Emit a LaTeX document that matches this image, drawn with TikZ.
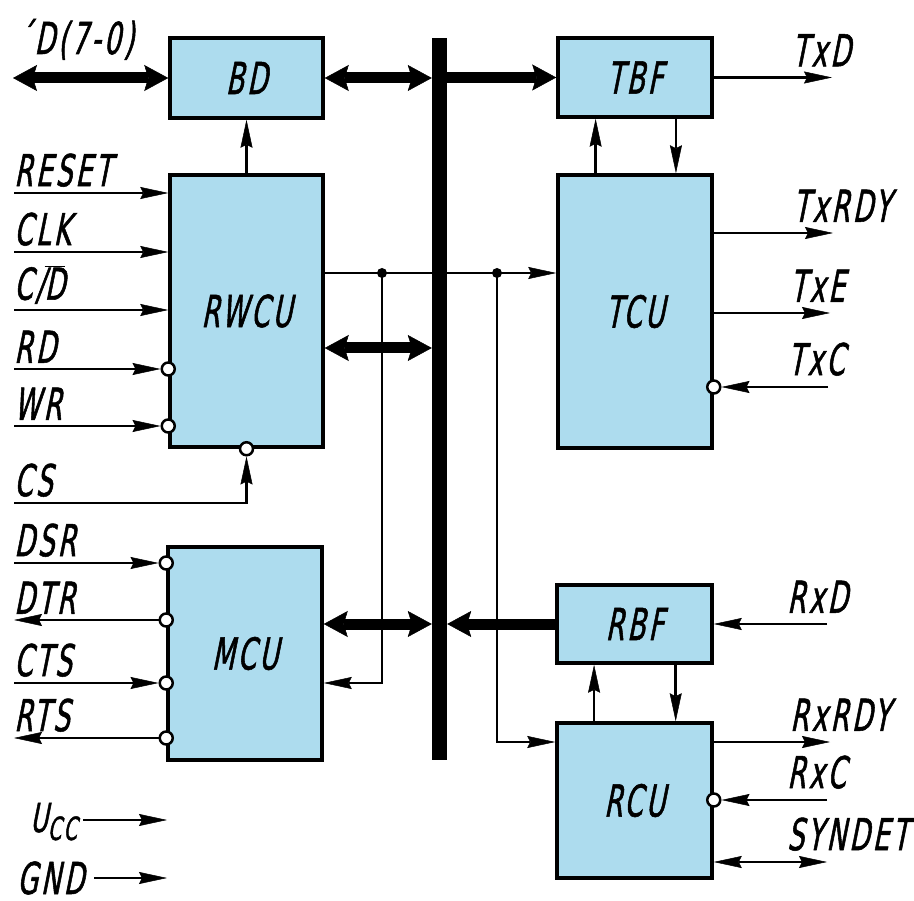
\documentclass[tikz,border=0pt]{standalone}
\usepackage{fontspec}
\newfontfamily\labelfont[FakeStretch=0.6,FakeSlant=0.2,FakeBold=1.2,LetterSpace=7]{DejaVu Sans}
\usetikzlibrary{arrows.meta, positioning, calc}
\definecolor{unitblue}{RGB}{173,220,238}

\begin{document}
\begin{tikzpicture}[
    x=1pt, y=-1pt,
    >={Stealth[length=28pt,width=12pt,inset=3pt,line width=0.5pt]}, % long thin signal tip
    % Style definitions
    unit box/.style={draw, line width=3.5pt, fill=unitblue, rectangle, inner sep=0pt, font=\labelfont\fontsize{44}{48}\selectfont},
    pin label/.style={inner sep=0pt, font=\labelfont\fontsize{44}{48}\selectfont},
    sig/.style={line width=2.6pt},
    feed in/.style={->},
    feed out/.style={<-},
    fat tip/.tip={Stealth[length=24pt,width=26pt,inset=4pt,line width=0.5pt]},
    data bus/.style={line width=11pt, fat tip-fat tip},
    data feed/.style={line width=11pt, -fat tip},
    % Pin circles and junctions
    neg/.style={circle, draw, line width=2.5pt, fill=white, minimum size=13pt, inner sep=0pt},
    junction/.style={circle, fill, minimum size=10pt, inner sep=0pt}
]
\useasboundingbox (0,0) rectangle (914,901);

% ==========================================
% 1. UNITS AND INTERNAL BUS
% ==========================================
\node[fill, minimum width=15pt, minimum height=722pt, inner sep=0pt] (bus) at (439.5,399) {};

\node[unit box, minimum width=153pt, minimum height=80pt]  (bd)   at (246.5,78)  {BD};
\node[unit box, minimum width=153pt, minimum height=272pt] (rwcu) at (246.5,311) {RWCU};
\node[unit box, minimum width=154pt, minimum height=213pt] (mcu)  at (245,653.5) {MCU};
\node[unit box, minimum width=154pt, minimum height=79pt]  (tbf)  at (635,77.5)  {TBF};
\node[unit box, minimum width=154pt, minimum height=273pt] (tcu)  at (635,311.5) {TCU};
\node[unit box, minimum width=155pt, minimum height=78pt]  (rbf)  at (634.5,624) {RBF};
\node[unit box, minimum width=155pt, minimum height=155pt] (rcu)  at (634.5,800.5) {RCU};

% ==========================================
% 2. DATA PATHS (thick)
% ==========================================
\coordinate (pData) at (13,78);
\coordinate (lvlRW) at (0,348);
\node[pin label, anchor=south west] (lData) at (18,60) {´D(7-0)};

\draw[data bus] (pData) -- (bd.west);
\draw[data bus] (bd.east) -- (bd.east -| bus.west);
\draw[data feed] (bus.east |- tbf.west) -- (tbf.west);
\draw[data bus] (rwcu.east |- lvlRW) -- (bus.west |- lvlRW);
\draw[data bus] (mcu.east |- rbf.west) -- (bus.west |- rbf.west);
\draw[data feed] (rbf.west) -- (bus.east |- rbf.west);

% ==========================================
% 3. CONTROL LINES
% ==========================================
\coordinate (lvlCtl) at (0,273);
\draw[sig,->] (rwcu.north) -- (bd.south);
\draw[sig,->] (rwcu.east |- lvlCtl) -- (tcu.west |- lvlCtl);
\node[junction] (j1) at (382,273) {};
\node[junction] (j2) at (497,273) {};

% Buffer <-> control unit pairs
\coordinate (tu) at ($(tcu.north west)!0.25!(tcu.north east)$);
\coordinate (td) at ($(tcu.north west)!0.76!(tcu.north east)$);
\draw[sig,->] (tu) -- (tu |- tbf.south);
\draw[sig,<-] (td) -- (td |- tbf.south);
\coordinate (ru) at ($(rcu.north west)!0.245!(rcu.north east)$);
\coordinate (rd) at ($(rcu.north west)!0.76!(rcu.north east)$);
\draw[sig,->] (ru) -- (ru |- rbf.south);
\draw[sig,<-] (rd) -- (rd |- rbf.south);

% ==========================================
% 4. LEFT PINS
% ==========================================
\foreach \pin/\lvl/\txt in {RESET/193/RESET, CLK/252/CLK, CD/310/{C/$\overline{\mbox{D}}$}}{
    \coordinate (p\pin) at (14,\lvl);
    \draw[sig,->] (p\pin) -- (p\pin -| rwcu.west);
    \node[pin label, anchor=south west] (l\pin) at ([yshift=6pt]p\pin) {\txt};
}

\foreach \pin/\lvl/\unit/\dir in {RD/369/rwcu/in, WR/426/rwcu/in, DSR/563/mcu/in, DTR/620/mcu/out, CTS/683/mcu/in, RTS/738/mcu/out}{
    \coordinate (p\pin) at (14,\lvl);
    \node[neg] (c\pin) at (p\pin -| \unit.west) {};
    \draw[sig, feed \dir] (p\pin) -- (c\pin.west);
    \node[pin label, anchor=south west] (l\pin) at ([yshift=6pt]p\pin) {\pin};
}

% Chip select from below
\coordinate (pCS) at (14,503);
\node[neg] (cCS) at (rwcu.south) {};
\draw[sig,->] (pCS) -| (cCS.south);
\node[pin label, anchor=south west] (lCS) at ([yshift=6pt]pCS) {CS};

% Junction feeds to MCU and RCU
\draw[sig,->] (j1.center) |- (mcu.east |- pCTS);

% ==========================================
% 5. RIGHT PINS
% ==========================================
\coordinate (pTxD)   at (832,77.5);
\coordinate (pTxRDY) at (833,233);
\coordinate (pTxE)   at (830,313);
\coordinate (pTxC)   at (828,387);
\coordinate (pRxD)   at (827,624);
\coordinate (pRxRDY) at (830,742);
\coordinate (pRxC)   at (827,800);
\coordinate (pSYN)   at (827,862);

\draw[sig,->] (j2.center) |- (rcu.west |- pRxRDY);

\draw[sig,->] (tbf.east) -- (pTxD);
\draw[sig,->] (tcu.east |- pTxRDY) -- (pTxRDY);
\draw[sig,->] (tcu.east |- pTxE) -- (pTxE);
\node[neg] (cTxC) at (tcu.east |- pTxC) {};
\draw[sig,->] (pTxC) -- (cTxC.east);
\draw[sig,->] (pRxD) -- (rbf.east);
\draw[sig,->] (rcu.east |- pRxRDY) -- (pRxRDY);
\node[neg] (cRxC) at (rcu.east |- pRxC) {};
\draw[sig,->] (pRxC) -- (cRxC.east);
\draw[sig,<->] (rcu.east |- pSYN) -- (pSYN);

\foreach \pin/\txt in {TxD/TxD, TxRDY/TxRDY, TxE/TxE, TxC/TxC, RxD/RxD, RxRDY/RxRDY, RxC/RxC, SYN/SYNDET}{
    \node[pin label, anchor=south west] (l\pin) at ([xshift=-40pt,yshift=11pt]p\pin) {\txt};
}

% ==========================================
% 6. SUPPLY
% ==========================================
\coordinate (pUcc) at (167,820);
\coordinate (pGND) at (167,878);
\node[pin label, anchor=base west] (lUcc) at (30,832) {\fontsize{40}{44}\selectfont U\smash{\raisebox{-8pt}{\fontsize{32}{36}\selectfont CC}}};
\node[pin label, anchor=west] (lGND) at (17,878) {GND};
\draw[sig,->, shorten <=6pt] (lUcc.east |- pUcc) -- (pUcc);
\draw[sig,->, shorten <=10pt] (lGND.east) -- (pGND);

\end{tikzpicture}
\end{document}
